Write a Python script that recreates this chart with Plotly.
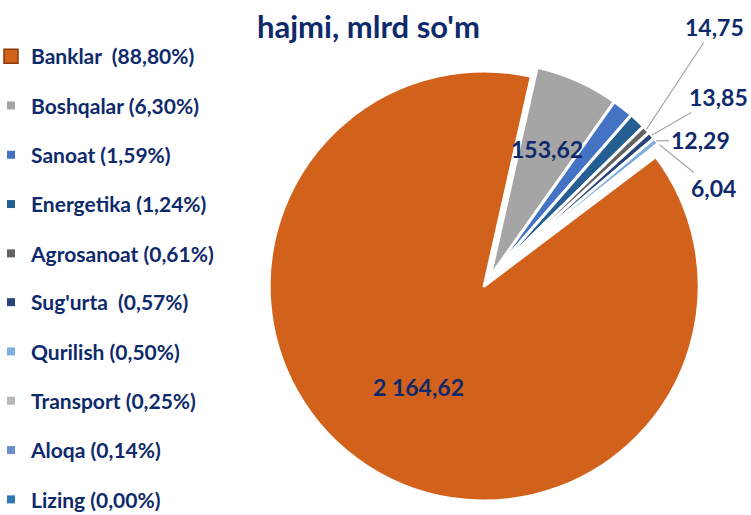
import math
import plotly.graph_objects as go

# ---- data ----
categories = ["Banklar", "Boshqalar", "Sanoat", "Energetika", "Agrosanoat",
              "Sug'urta", "Qurilish", "Transport", "Aloqa", "Lizing"]
values = [2164.62, 153.62, 38.76, 30.23, 14.75, 13.85, 12.29, 6.04, 3.41, 0.0]
shares = [88.80, 6.30, 1.59, 1.24, 0.61, 0.57, 0.50, 0.25, 0.14, 0.00]
legend_sep = ["  ", " ", " ", " ", " ", "  ", " ", " ", " ", " "]
inside_labels = ["Banklar", "Boshqalar"]
outside_labels = ["Agrosanoat", "Sug'urta", "Qurilish", "Transport"]
colors = ["#D2611B", "#A5A5A5", "#4472C4", "#255E91", "#636363",
          "#264478", "#7CAFDD", "#B9B9B9", "#698ED0", "#2E75B6"]
title_text = "hajmi, mlrd so'm"

NAVY = "#0E2A6A"
FONT = "Lato"
W, H = 751, 515


def fmt(v):
    s = f"{v:,.2f}"
    return s.replace(",", " ").replace(".", ",")


def fmt_pct(p):
    return f"{p:.2f}".replace(".", ",") + "%"


# pie geometry (layout, pixels)
cx, cy, r0 = 490, 277, 215
pulls = [0.05] + [0] * 9
rotation = 53
half = r0 * (1 + max(pulls))
dom_x = [(cx - half) / W, (cx + half) / W]
dom_y = [1 - (cy + half) / H, 1 - (cy - half) / H]

fig = go.Figure()
fig.add_trace(go.Pie(
    labels=categories, values=values, sort=False, direction="clockwise",
    rotation=rotation, pull=pulls, domain=dict(x=dom_x, y=dom_y),
    marker=dict(colors=colors, line=dict(color="white", width=3)),
    textinfo="none", showlegend=False, hoverinfo="label+value+percent",
))

# legend entries via dummy traces (one group each for spacing), split in two legends
for i, c in enumerate(categories):
    fig.add_trace(go.Scatter(
        x=[None], y=[None], mode="markers",
        name=f"{c}{legend_sep[i]}({fmt_pct(shares[i])})",
        marker=dict(symbol="square", size=14 if i == 0 else 8, color=colors[i],
                    line=dict(color="#8a3a08", width=1.5) if i == 0 else dict(width=0)),
        legendgroup=f"g{i}", showlegend=True,
        legend="legend" if i < 5 else "legend2",
    ))

# slice angles
total = sum(values)
cum = 0.0
mid_angle = {}
for c, v in zip(categories, values):
    mid_angle[c] = rotation + (cum + v / 2) / total * 360
    cum += v

LABEL_FONT = dict(family=FONT, size=23, color=NAVY, weight="bold")

# inside labels
inside_frac = {"Banklar": 0.56, "Boshqalar": 0.65}
for c in inside_labels:
    i = categories.index(c)
    a = math.radians(mid_angle[c])
    rr = r0 * (inside_frac[c] + pulls[i])
    px = cx + rr * math.sin(a)
    py = cy - rr * math.cos(a)
    fig.add_annotation(x=px / W, y=1 - py / H, xref="paper", yref="paper",
                       xanchor="center", yanchor="middle",
                       text=fmt(values[i]), showarrow=False, font=LABEL_FONT)

# outside labels with leader lines
label_pos = {"Agrosanoat": (714, 27), "Sug'urta": (718, 97),
             "Qurilish": (700, 140), "Transport": (713, 188)}
for c in outside_labels:
    i = categories.index(c)
    a = math.radians(mid_angle[c])
    px = cx + r0 * math.sin(a)
    py = cy - r0 * math.cos(a)
    tx, ty = label_pos[c]
    fig.add_annotation(
        x=px / W, y=1 - py / H, xref="paper", yref="paper",
        ax=tx - px, ay=ty - py, axref="pixel", ayref="pixel",
        text=fmt(values[i]), showarrow=True, arrowhead=0, arrowwidth=1.2,
        arrowcolor="#A6A6A6", standoff=0, font=LABEL_FONT,
    )

legend_common = dict(x=-9 / W, xanchor="left", xref="paper", yanchor="top",
                     yref="paper",
                     font=dict(family=FONT, size=21, color=NAVY, weight="bold"),
                     tracegroupgap=19, bgcolor="rgba(0,0,0,0)")

fig.update_layout(
    width=W, height=H,
    margin=dict(l=0, r=0, t=0, b=0, autoexpand=False),
    paper_bgcolor="white", plot_bgcolor="white",
    xaxis=dict(visible=False), yaxis=dict(visible=False),
    title=dict(text=title_text, x=257 / W, xanchor="left", xref="container",
               y=1 - 27 / H, yanchor="middle", yref="container",
               font=dict(family=FONT, size=31, color=NAVY, weight="bold")),
    legend=dict(y=1 - 36 / H, **legend_common),
    legend2=dict(y=1 - 282 / H, **legend_common),
)

fig.write_html("out.html", config={"displayModeBar": False},
               post_script="document.body.style.margin='0px';")
